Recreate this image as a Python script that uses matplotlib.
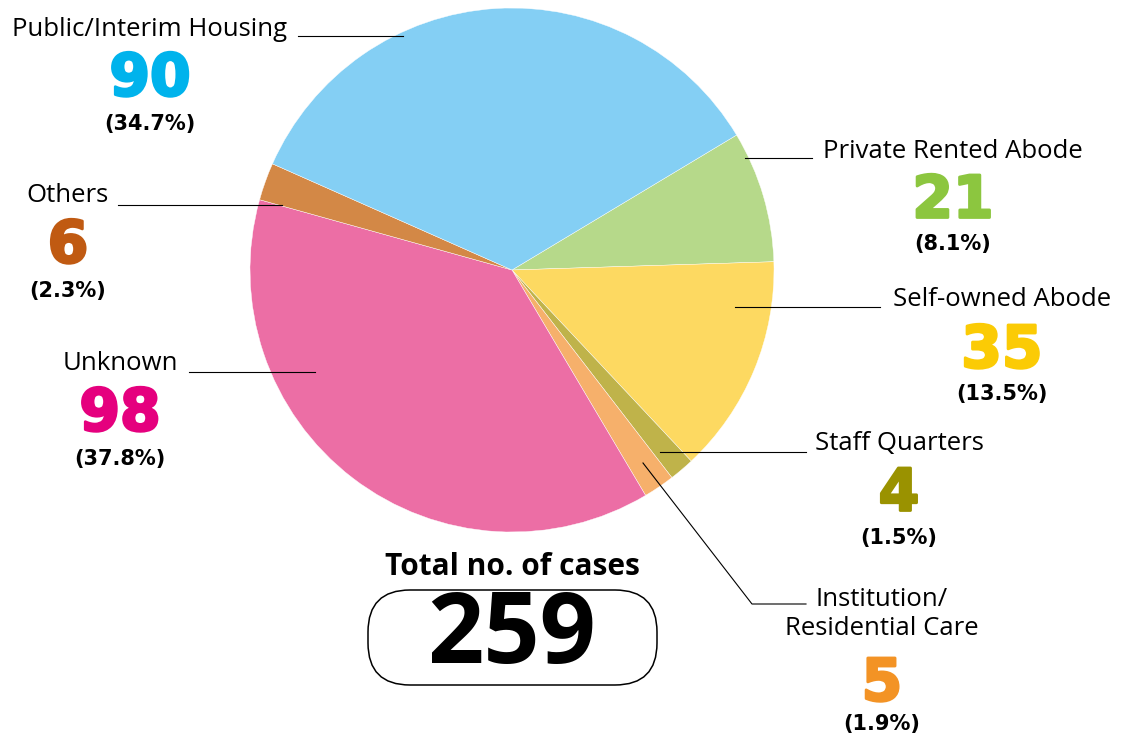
import matplotlib.pyplot as plt
import matplotlib.patheffects as pe
from matplotlib.patches import FancyBboxPatch

# data, in clockwise order starting from the Private Rented Abode slice
categories = ["Private Rented Abode", "Self-owned Abode", "Staff Quarters",
              "Institution/\nResidential Care", "Unknown", "Others",
              "Public/Interim Housing"]
cases = [21, 35, 4, 5, 98, 6, 90]
pct_labels = ["(8.1%)", "(13.5%)", "(1.5%)", "(1.9%)", "(37.8%)", "(2.3%)", "(34.7%)"]
total = 259

slice_colors = ["#b6d98a", "#fdd961", "#bfb34a", "#f6b06b", "#ec6ea5", "#d38846", "#84cff4"]
num_colors = ["#8cc63f", "#fbcb05", "#9a9200", "#f39325", "#e5007e", "#c05a12", "#00b3ec"]

W, H = 1128, 738
fig = plt.figure(figsize=(W / 100, H / 100), dpi=100)
ax = fig.add_axes([0, 0, 1, 1])

def Y(y):
    return H - y

ax.pie(cases, colors=slice_colors, startangle=31, counterclock=False,
       center=(512, Y(270)), radius=262, frame=True,
       wedgeprops=dict(edgecolor="white", linewidth=0.3))
ax.set_xlim(0, W)
ax.set_ylim(0, H)
ax.set_aspect("equal")
ax.axis("off")

reg = "Open Sans"
heavy = "DejaVu Sans"

# label positions (center x, name y, number y, pct y)
pos = [
    (953, 151, 201, 244),
    (1002, 299, 351, 394),
    (899, 443, 494, 538),
    (882, 614, 684, 724),
    (120, 364, 414, 459),
    (68, 196, 246, 291),
    (150, 30, 79, 124),
]

for i, name in enumerate(categories):
    cx, ny, vy, py = pos[i]
    ax.text(cx, Y(ny), name, ha="center", va="center", fontsize=18.5,
            family=reg, color="black", linespacing=1.25)
    ax.text(cx, Y(vy), str(cases[i]), ha="center", va="center", fontsize=42,
            family=heavy, weight="bold", color=num_colors[i],
            path_effects=[pe.withStroke(linewidth=2, foreground=num_colors[i])])
    ax.text(cx, Y(py), pct_labels[i], ha="center", va="center", fontsize=15,
            family=heavy, weight="bold", color="black")

# leader lines
leaders = [
    [(745, 158), (812, 158)],
    [(735, 307), (880, 307)],
    [(660, 452), (806, 452)],
    [(643, 463), (752, 604), (806, 604)],
    [(189, 372), (315, 372)],
    [(118, 205), (282, 205)],
    [(298, 36), (403, 36)],
]
for pts in leaders:
    xs = [p[0] for p in pts]
    ys = [Y(p[1]) for p in pts]
    ax.plot(xs, ys, color="black", lw=0.8)

ax.text(512, Y(567), "Total no. of cases", ha="center", va="center",
        fontsize=21.5, family=reg, weight="bold")
box = FancyBboxPatch((368, Y(685)), 289, 95,
                     boxstyle="round,pad=0,rounding_size=42",
                     facecolor="white", edgecolor="black", lw=1.1)
ax.add_patch(box)
ax.text(512, Y(638), str(total), ha="center", va="center",
        fontsize=71, family=reg, weight="bold")

fig.savefig("out.png", dpi=100)
